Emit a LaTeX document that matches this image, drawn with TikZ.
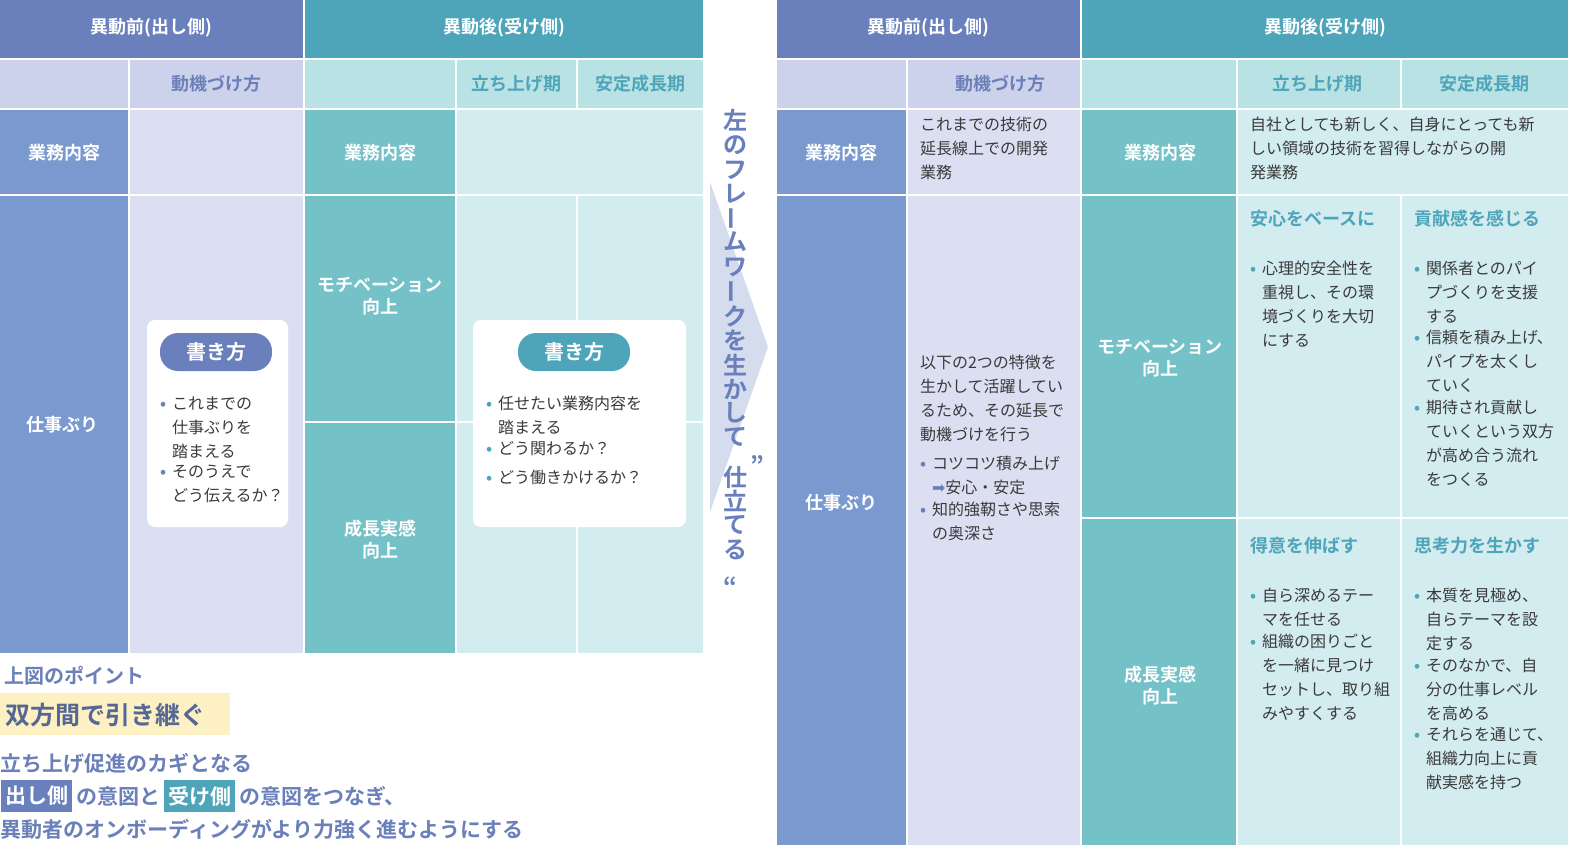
\documentclass[tikz,border=0pt]{standalone}
\usepackage{fontspec}
\setmainfont{Noto Sans CJK JP}[BoldFont={Noto Sans CJK JP Bold}]
\newfontfamily\dejavu{DejaVu Sans}
\usepackage{tikz}
\definecolor{hdA}{HTML}{6A80BD}
\definecolor{hdB}{HTML}{4EA5BA}
\definecolor{blueC}{HTML}{7A99CF}
\definecolor{tealC}{HTML}{74C1C7}
\definecolor{lavL}{HTML}{CDD2EC}
\definecolor{lavP}{HTML}{DCDFF2}
\definecolor{tealL}{HTML}{B8E2E4}
\definecolor{tealP}{HTML}{D3ECF0}
\definecolor{bluT}{HTML}{6B80B9}
\definecolor{tealT}{HTML}{4EA5BA}
\definecolor{bodyT}{HTML}{3A3A3A}
\definecolor{hilite}{HTML}{FDF0C2}
\definecolor{arrowF}{HTML}{D5DCEE}
\tikzstyle{every node}=[inner sep=0pt,outer sep=0pt]
\tikzstyle{head}=[text=white,font=\fontsize{9}{11}\selectfont\bfseries,align=center]
\tikzstyle{sub}=[font=\fontsize{9}{11}\selectfont\bfseries,align=center]
\tikzstyle{body}=[text=bodyT,font=\fontsize{8}{12}\selectfont,align=left,anchor=north west,text width=100pt]
\tikzstyle{pill}=[rounded corners=9pt,text=white,font=\fontsize{10}{12}\selectfont\bfseries,minimum width=56pt,minimum height=19pt]
\tikzstyle{vchar}=[text=hdA,font=\fontsize{12}{12}\selectfont\bfseries]
\newcommand{\bitem}[2][bluT]{\par\vspace{2.5pt}\noindent\makebox[0.75em][l]{\textcolor{#1}{\bfseries •}}\parbox[t]{100pt}{\raggedright #2}\par}
\newcommand{\cell}[5]{\fill[#5] (#1,#2) rectangle (#3,#4);}

\begin{document}
\begin{tikzpicture}[x=0.5pt,y=-0.5pt]
  \useasboundingbox[fill=white] (0,0) rectangle (1580,852);
  % left table
  \cell{0}{0}{303}{58}{hdA}
  \cell{305}{0}{703}{58}{hdB}
  \cell{0}{60}{128}{108}{lavL}
  \cell{130}{60}{303}{108}{lavL}
  \cell{305}{60}{455}{108}{tealL}
  \cell{457}{60}{576}{108}{tealL}
  \cell{578}{60}{703}{108}{tealL}
  \cell{0}{110}{128}{194}{blueC}
  \cell{130}{110}{303}{194}{lavP}
  \cell{305}{110}{455}{194}{tealC}
  \cell{457}{110}{703}{194}{tealP}
  \cell{0}{196}{128}{653}{blueC}
  \cell{130}{196}{303}{653}{lavP}
  \cell{305}{196}{455}{421}{tealC}
  \cell{305}{423}{455}{653}{tealC}
  \cell{457}{196}{576}{421}{tealP}
  \cell{578}{196}{703}{421}{tealP}
  \cell{457}{423}{576}{653}{tealP}
  \cell{578}{423}{703}{653}{tealP}
  \node[head] (lpre) at (151,28) {異動前(出し側)};
  \node[head] (lpost) at (504,28) {異動後(受け側)};
  \node[sub,text=bluT] (lmot) at (216,84) {動機づけ方};
  \node[sub,text=tealT] (lup) at (516,84) {立ち上げ期};
  \node[sub,text=tealT] (lgrow) at (640,84) {安定成長期};
  \node[head] (lwork) at (64,153) {業務内容};
  \node[head] (lwork2) at (380,153) {業務内容};
  \node[head] (lperf) at (62,425) {仕事ぶり};
  \node[head] (lmotiv) at (380,296) {モチベーション\\向上};
  \node[head] (lsense) at (380,540) {成長実感\\向上};
  % writing boxes
  \fill[white,rounded corners=4pt] (147,320) rectangle (288,527);
  \fill[white,rounded corners=4pt] (473,320) rectangle (686,527);
  \node[pill,fill=hdA] (pillA) at (216,352) {書き方};
  \node[pill,fill=hdB] (pillB) at (574,352) {書き方};
  \node[body] (boxA) at (160,380) {\bitem{これまでの\\仕事ぶりを\\踏まえる}\bitem{そのうえで\\どう伝えるか？}};
  \node[body,text width=110pt] (boxB) at (486,380) {\bitem[tealT]{任せたい業務内容を\\踏まえる}\bitem[tealT]{どう関わるか？}\bitem[tealT]{どう働きかけるか？}};
  % middle arrow
  \fill[arrowF] (710,182) -- (768,347) -- (710,512) -- cycle;
  \foreach \ch/\yy in {左/120,の/145,フ/170,レ/194,ム/242,ワ/267,ク/316,を/340,生/365,か/389,し/413,て/437,仕/477,立/501,て/525,る/550}
    \node[vchar] at (735,\yy) {\ch};
  \foreach \yy in {218,291}
    \node[vchar,rotate=90] at (735,\yy) {ー};
  \node[vchar] (qR) at (757,465) {”};
  \node[vchar] (qL) at (730,586) {“};
  % key points
  \fill[hilite] (0,693) rectangle (230,735);
  \node[text=bluT,font=\fontsize{10}{12}\selectfont\bfseries,anchor=west] (pt) at (4,676) {上図のポイント};
  \node[text=hdA!80!black,font=\fontsize{12.5}{14}\selectfont\bfseries,anchor=west] (key) at (5,715) {双方間で引き継ぐ};
  \node[text=bluT,font=\fontsize{10.5}{13}\selectfont\bfseries,anchor=west] (l1) at (1,763) {立ち上げ促進のカギとなる};
  \node[text=white,fill=hdA,font=\fontsize{10.5}{13}\selectfont\bfseries,anchor=west,inner xsep=2pt,minimum height=16pt] (sender) at (1,796) {出し側};
  \node[text=bluT,font=\fontsize{10.5}{13}\selectfont\bfseries,anchor=west] (l2a) at ([xshift=2pt]sender.east) {の意図と};
  \node[text=white,fill=hdB,font=\fontsize{10.5}{13}\selectfont\bfseries,anchor=west,inner xsep=2pt,minimum height=16pt] (recv) at ([xshift=2pt]l2a.east) {受け側};
  \node[text=bluT,font=\fontsize{10.5}{13}\selectfont\bfseries,anchor=west] (l2b) at ([xshift=2pt]recv.east) {の意図をつなぎ、};
  \node[text=bluT,font=\fontsize{10.5}{13}\selectfont\bfseries,anchor=west] (l3) at (1,829) {異動者のオンボーディングがより力強く進むようにする};
  % right table
  \cell{777}{0}{1080}{58}{hdA}
  \cell{1082}{0}{1568}{58}{hdB}
  \cell{777}{60}{906}{108}{lavL}
  \cell{908}{60}{1080}{108}{lavL}
  \cell{1082}{60}{1236}{108}{tealL}
  \cell{1238}{60}{1400}{108}{tealL}
  \cell{1402}{60}{1568}{108}{tealL}
  \cell{777}{110}{906}{194}{blueC}
  \cell{908}{110}{1080}{194}{lavP}
  \cell{1082}{110}{1236}{194}{tealC}
  \cell{1238}{110}{1568}{194}{tealP}
  \cell{777}{196}{906}{845}{blueC}
  \cell{908}{196}{1080}{845}{lavP}
  \cell{1082}{196}{1236}{517}{tealC}
  \cell{1082}{519}{1236}{845}{tealC}
  \cell{1238}{196}{1400}{517}{tealP}
  \cell{1402}{196}{1568}{517}{tealP}
  \cell{1238}{519}{1400}{845}{tealP}
  \cell{1402}{519}{1568}{845}{tealP}
  \node[head] (rpre) at (928,28) {異動前(出し側)};
  \node[head] (rpost) at (1325,28) {異動後(受け側)};
  \node[sub,text=bluT] (rmot) at (1000,84) {動機づけ方};
  \node[sub,text=tealT] (rup) at (1317,84) {立ち上げ期};
  \node[sub,text=tealT] (rgrow) at (1484,84) {安定成長期};
  \node[head] (rwork) at (841,153) {業務内容};
  \node[head] (rwork2) at (1160,153) {業務内容};
  \node[head] (rperf) at (841,503) {仕事ぶり};
  \node[head] (rmotiv) at (1160,358) {モチベーション\\向上};
  \node[head] (rsense) at (1160,686) {成長実感\\向上};
  \node[body] (prevwork) at (920,117) {これまでの技術の\\延長線上での開発\\業務};
  \node[body,text width=170pt] (newwork) at (1250,117) {自社としても新しく、自身にとっても新\\しい領域の技術を習得しながらの開\\発業務};
  \node[body] (prevperf) at (920,355) {以下の2つの特徴を\\生かして活躍してい\\るため、その延長で\\動機づけを行う\bitem{コツコツ積み上げ\\{\dejavu\textcolor{bluT}{➡}}安心・安定}\bitem{知的強靭さや思索\\の奥深さ}};
  \node[body] (safe) at (1250,210) {\textcolor{tealT}{\fontsize{9}{11}\selectfont\bfseries 安心をベースに}\par\vspace{10pt}\bitem[tealT]{心理的安全性を\\重視し、その環\\境づくりを大切\\にする}};
  \node[body] (contrib) at (1414,210) {\textcolor{tealT}{\fontsize{9}{11}\selectfont\bfseries 貢献感を感じる}\par\vspace{10pt}\bitem[tealT]{関係者とのパイ\\プづくりを支援\\する}\bitem[tealT]{信頼を積み上げ、\\パイプを太くし\\ていく}\bitem[tealT]{期待され貢献し\\ていくという双方\\が高め合う流れ\\をつくる}};
  \node[body] (strength) at (1250,537) {\textcolor{tealT}{\fontsize{9}{11}\selectfont\bfseries 得意を伸ばす}\par\vspace{10pt}\bitem[tealT]{自ら深めるテー\\マを任せる}\bitem[tealT]{組織の困りごと\\を一緒に見つけ\\セットし、取り組\\みやすくする}};
  \node[body] (think) at (1414,537) {\textcolor{tealT}{\fontsize{9}{11}\selectfont\bfseries 思考力を生かす}\par\vspace{10pt}\bitem[tealT]{本質を見極め、\\自らテーマを設\\定する}\bitem[tealT]{そのなかで、自\\分の仕事レベル\\を高める}\bitem[tealT]{それらを通じて、\\組織力向上に貢\\献実感を持つ}};
\end{tikzpicture}
\end{document}
